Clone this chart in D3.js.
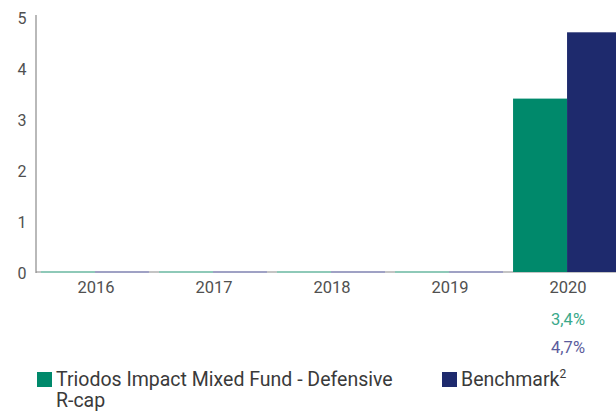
<!DOCTYPE html>
<html>
<head>
<meta charset="utf-8">
<script src="https://cdn.jsdelivr.net/npm/d3@7"></script>
<style>
  body { margin: 0; background: #fff; }
  svg { font-family: Roboto, "Noto Sans", sans-serif; }
</style>
</head>
<body>
<div id="chart"></div>
<script>
// data
const years = ["2016", "2017", "2018", "2019", "2020"];
const seriesNames = ["Triodos Impact Mixed Fund - Defensive R-cap", "Benchmark"];
const fund = [0, 0, 0, 0, 3.4];
const benchmark = [0, 0, 0, 0, 4.7];
const yTicks = [0, 1, 2, 3, 4, 5];
const valueLabels = ["3,4%", "4,7%"];

const width = 616, height = 412;
const colors = ["#00896b", "#1e2a6d"];
const lineColors = ["#7ccbb4", "#9396c4"];
const labelColors = ["#3aa98a", "#5b5c9c"];

const svg = d3.select("#chart").append("svg")
  .attr("width", width).attr("height", height);

// x scale: band per year, bars grouped inside
const x = d3.scaleBand()
  .domain(years)
  .range([36, 626])
  .paddingInner(0.085)
  .paddingOuter(0.042);

const sub = d3.scaleBand()
  .domain([0, 1])
  .range([0, x.bandwidth()]);

const y = d3.scaleLinear()
  .domain([0, 5])
  .range([272, 17]);

// baseline
svg.append("line")
  .attr("x1", 36).attr("x2", width)
  .attr("y1", y(0)).attr("y2", y(0))
  .attr("stroke", "#8a8a8a").attr("stroke-width", 1.2);

// bars
const rows = years.map((yr, i) => ({ year: yr, vals: [fund[i], benchmark[i]] }));
const groups = svg.selectAll(".grp").data(rows).enter().append("g")
  .attr("transform", d => `translate(${x(d.year)},0)`);

groups.selectAll("rect").data(d => d.vals).enter().append("rect")
  .attr("x", (d, i) => sub(i))
  .attr("y", d => y(d))
  .attr("width", sub.bandwidth())
  .attr("height", d => y(0) - y(d))
  .attr("fill", (d, i) => colors[i]);

// zero-valued bars show as thin coloured lines on the baseline
groups.selectAll(".zero").data(d => d.vals).enter()
  .filter(d => d === 0)
  .append("line")
  .attr("x1", (d, i) => sub(i)).attr("x2", (d, i) => sub(i) + sub.bandwidth())
  .attr("y1", y(0)).attr("y2", y(0))
  .attr("stroke", (d, i) => lineColors[i]).attr("stroke-width", 1.5);

// y axis
svg.append("line")
  .attr("x1", 36).attr("x2", 36)
  .attr("y1", 15).attr("y2", y(0) + 1)
  .attr("stroke", "#8a8a8a").attr("stroke-width", 1.2);

svg.selectAll(".ytick").data(yTicks).enter().append("text")
  .attr("x", 22).attr("y", d => y(d) + 3)
  .attr("text-anchor", "middle").attr("dominant-baseline", "middle")
  .attr("font-size", 16).attr("fill", "#505050")
  .text(d => d);

// x labels
svg.selectAll(".xtick").data(years).enter().append("text")
  .attr("x", d => x(d) + x.bandwidth() / 2 + 1).attr("y", 293)
  .attr("text-anchor", "middle")
  .attr("font-size", 16.5).attr("fill", "#505050")
  .text(d => d);

// value labels under 2020
const last = years[years.length - 1];
valueLabels.forEach((t, i) => {
  svg.append("text")
    .attr("x", x(last) + x.bandwidth() / 2 + 1).attr("y", 325 + i * 28)
    .attr("text-anchor", "middle")
    .attr("font-size", 16.5).attr("fill", labelColors[i])
    .text(t);
});

// legend
const leg = svg.append("g").attr("font-size", 19.5).attr("fill", "#3a3a3a");
leg.append("rect").attr("x", 37).attr("y", 372).attr("width", 15).attr("height", 15).attr("fill", colors[0]);
const t1 = leg.append("text").attr("x", 56).attr("y", 386);
t1.append("tspan").text("Triodos Impact Mixed Fund - Defensive");
t1.append("tspan").attr("x", 56).attr("dy", 21).text("R-cap");

leg.append("rect").attr("x", 442).attr("y", 372).attr("width", 15).attr("height", 15).attr("fill", colors[1]);
const t2 = leg.append("text").attr("x", 461).attr("y", 386);
t2.append("tspan").text(seriesNames[1]);
t2.append("tspan").attr("font-size", 12).attr("dy", -8).text("2");
</script>
</body>
</html>
